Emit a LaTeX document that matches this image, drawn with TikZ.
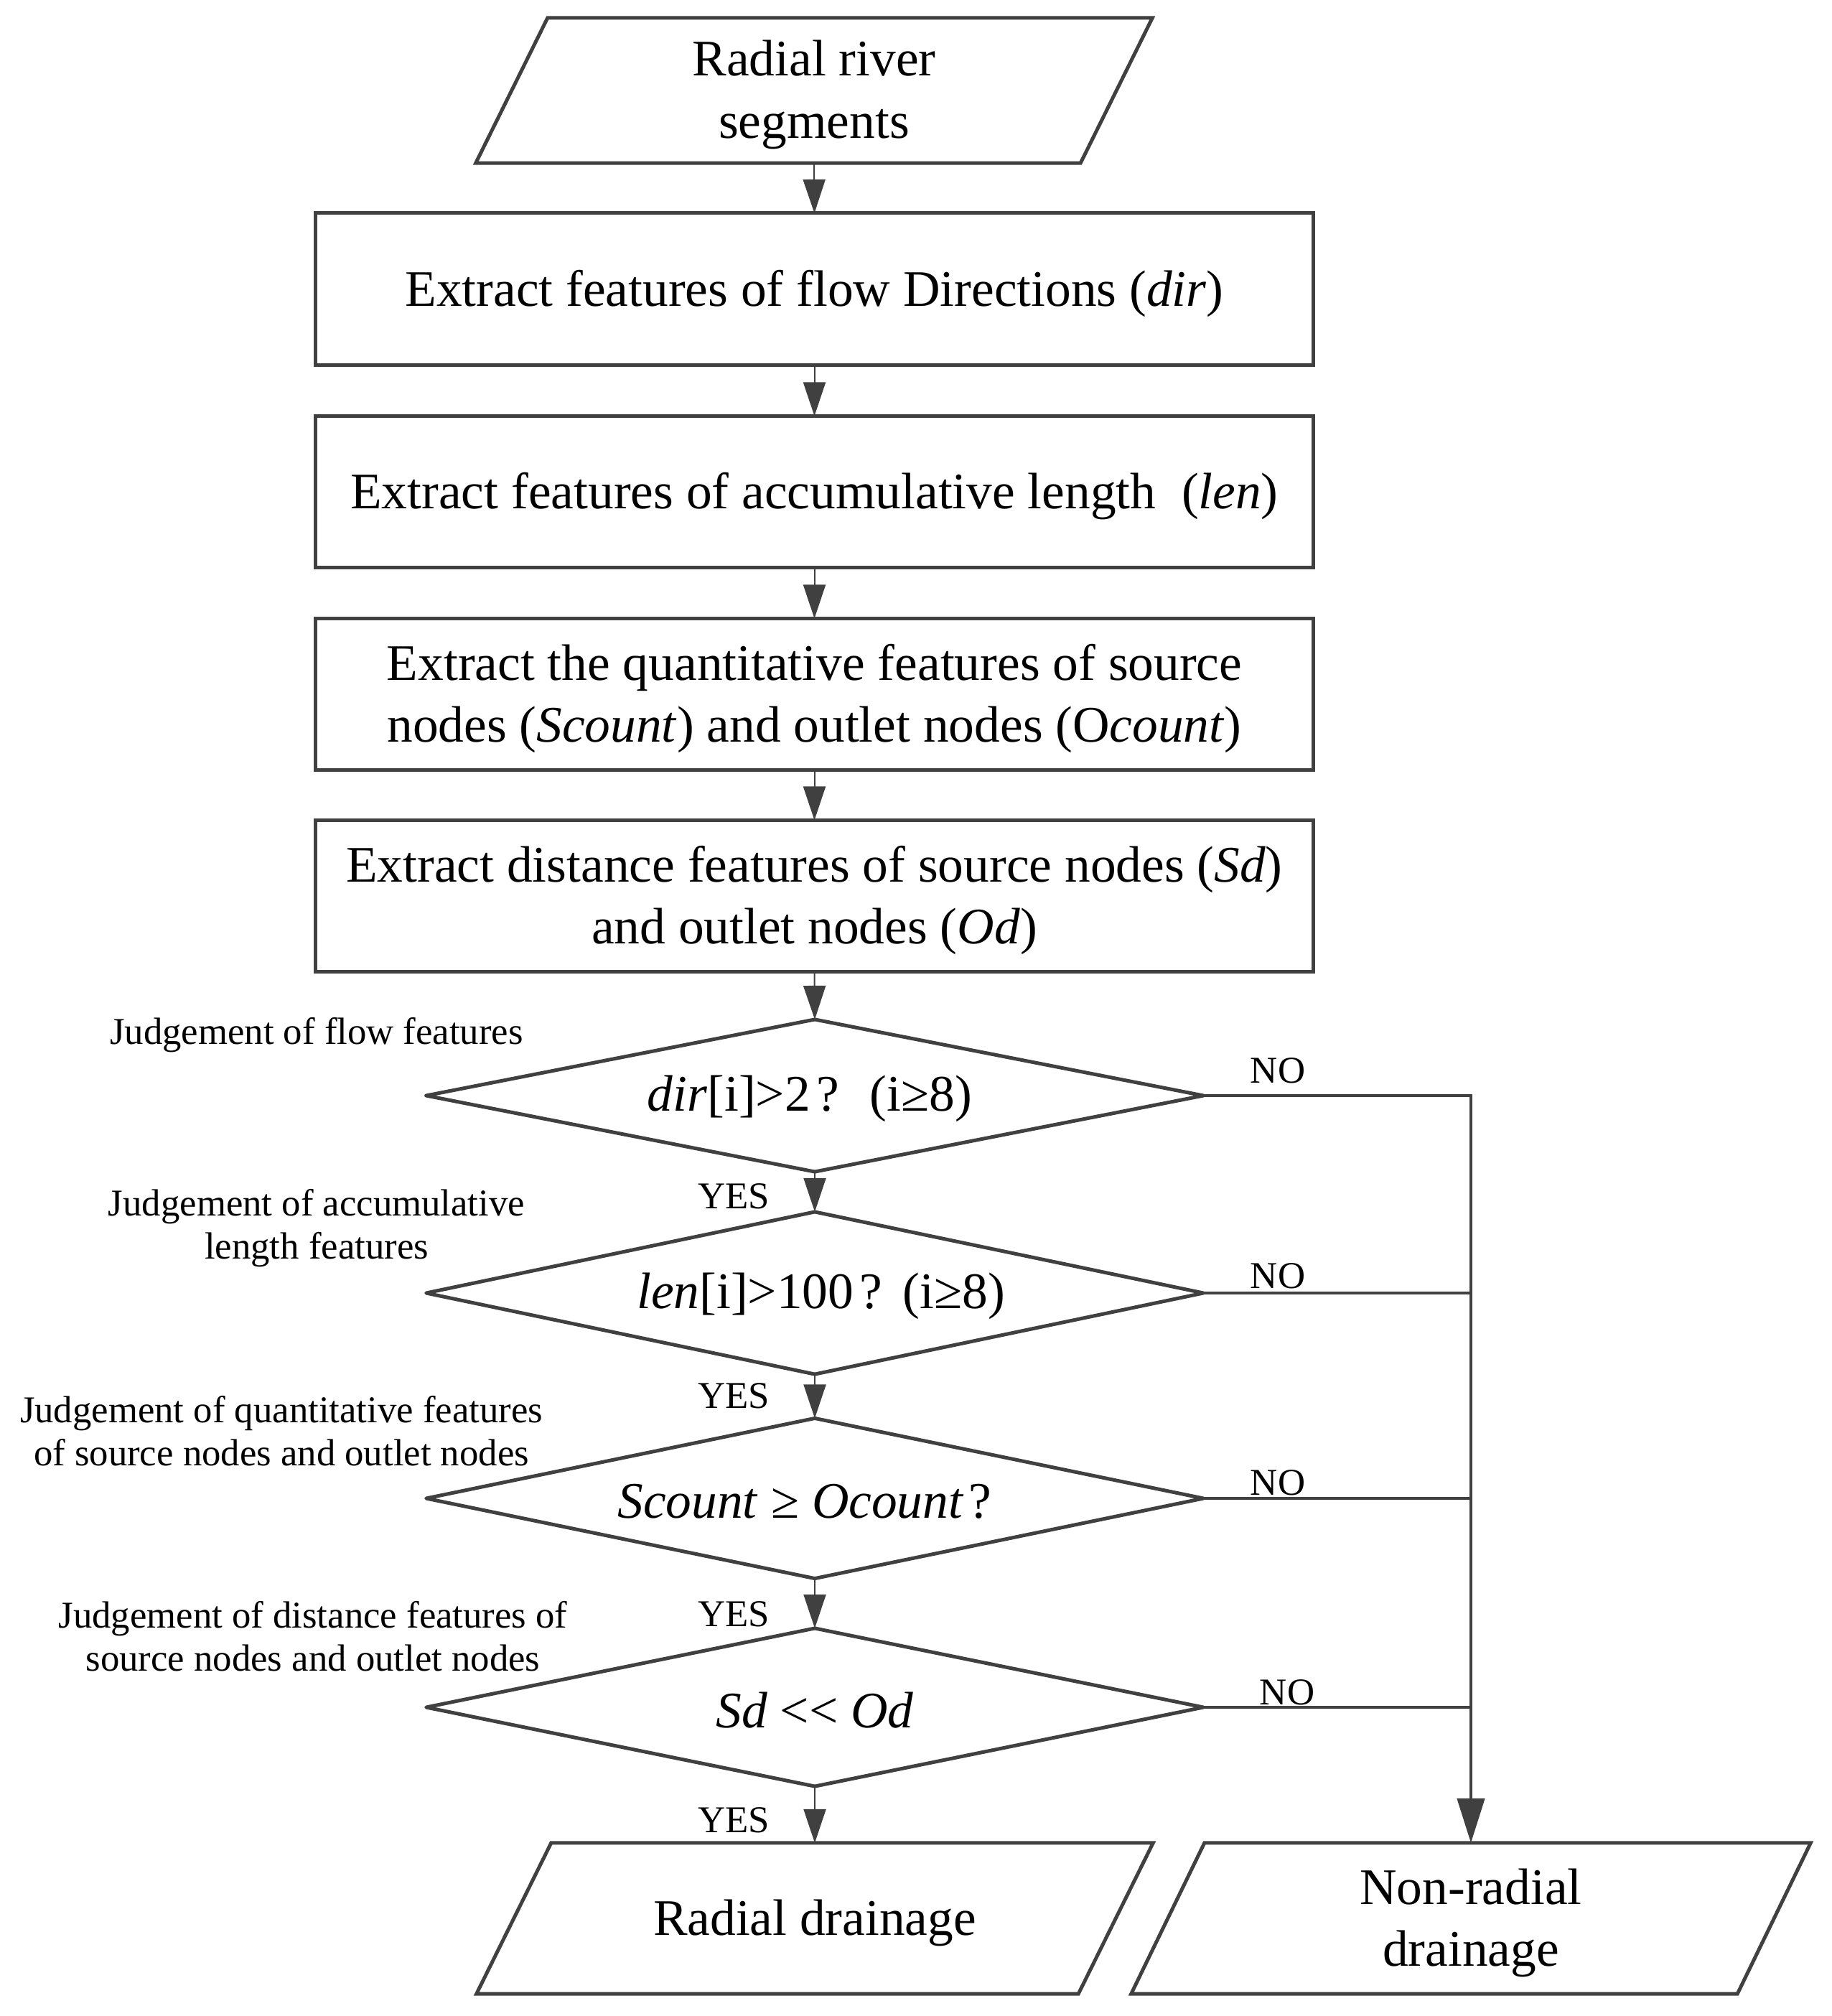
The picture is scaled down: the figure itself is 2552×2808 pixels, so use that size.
\documentclass[tikz,border=0pt]{standalone}
\usepackage{fontspec}
\setmainfont{Liberation Serif}
\usetikzlibrary{arrows.meta,calc}
\definecolor{ln}{HTML}{404040}
\newcommand{\bigtxt}{\fontsize{20.3pt}{24.5pt}\selectfont}
\newcommand{\smalltxt}{\fontsize{15pt}{17.1pt}\selectfont}
\newcommand{\qm}{\kern0.12em?\kern0.6em}
\begin{document}
\begin{tikzpicture}[x=0.01cm,y=-0.01cm,
  every node/.style={inner sep=0pt, outer sep=0pt, align=center, text=black},
  border/.style={draw=ln, line width=1.42pt, line join=miter},
  dborder/.style={draw=ln, line width=1.42pt, line join=round},
  procbox/.style={border, rectangle, minimum width=13.89cm, minimum height=2.11cm},
  iobox/.style={rectangle, minimum height=2.1cm},
  decide/.style={rectangle, minimum width=10.82cm},
  bigt/.style={font=\bigtxt},
  conn/.style={draw=ln, line width=0.57pt, -{Triangle[length=0.47cm,width=0.31cm]}},
  noline/.style={draw=ln, line width=1.3pt},
  lbl/.style={font=\smalltxt},
]
\useasboundingbox (0,0) rectangle (2552,2808);

% input
\node[iobox, minimum width=8.42cm, minimum height=2.02cm] (src) at (1134,126) {};
\draw[border] ($(src.north west)+(50,0)$) -- ($(src.north east)+(50,0)$) -- ($(src.south east)+(-50,0)$) -- ($(src.south west)+(-50,0)$) -- cycle;
\node[bigt] (srct) at ($(src.center)+(0,6)$) {Radial river\\segments};

% process boxes
\node[procbox] (b1) at (1134.5,402.5) {};
\node[procbox] (b2) at (1134.5,685) {};
\node[procbox] (b3) at (1134.5,967) {};
\node[procbox] (b4) at (1134.5,1248) {};
\node[bigt] (b1t) at ($(b1.center)+(0,6)$) {Extract features of flow Directions (\textit{dir})};
\node[bigt] (b2t) at ($(b2.center)+(0,6)$) {Extract features of accumulative length\ \ (\textit{len})};
\node[bigt] (b3t) at ($(b3.center)+(0,6)$) {Extract the quantitative features of source\\nodes (\textit{Scount}) and outlet nodes (O\textit{count})};
\node[bigt] (b4t) at ($(b4.center)+(0,6)$) {Extract distance features of source nodes (\textit{Sd})\\and outlet nodes (\textit{Od})};

% decisions
\node[decide, minimum height=2.12cm] (d1) at (1135,1526) {};
\node[decide, minimum height=2.26cm] (d2) at (1135,1801) {};
\node[decide, minimum height=2.23cm] (d3) at (1135,2087) {};
\node[decide, minimum height=2.20cm] (d4) at (1135,2378) {};
\foreach \d in {d1,d2,d3,d4}{
  \draw[dborder] (\d.north) -- (\d.east) -- (\d.south) -- (\d.west) -- cycle;
}
\node[bigt] (d1t) at ($(d1.center)+(0,4)$) {\textit{dir}[i]>2\qm(i≥8)\kern4pt};
\node[bigt] (d2t) at ($(d2.center)+(0,4)$) {\kern5pt\textit{len}[i]>100\kern0.12em?\kern0.4em(i≥8)};
\node[bigt] (d3t) at ($(d3.center)+(0,4)$) {\textit{Scount} ≥ \textit{Ocount}\kern0.1em?\kern8pt};
\node[bigt] (d4t) at ($(d4.center)+(0,4)$) {\textit{Sd} <\kern0pt< \textit{Od}};

% outputs
\node[iobox, minimum width=8.38cm] (rad) at (1135,2672) {};
\draw[border] ($(rad.north west)+(52,0)$) -- ($(rad.north east)+(52,0)$) -- ($(rad.south east)+(-52,0)$) -- ($(rad.south west)+(-52,0)$) -- cycle;
\node[bigt] (radt) at ($(rad.center)+(0,6)$) {Radial drainage};
\node[iobox, minimum width=8.44cm] (nr) at (2049,2672) {};
\draw[border] ($(nr.north west)+(51,0)$) -- ($(nr.north east)+(51,0)$) -- ($(nr.south east)+(-51,0)$) -- ($(nr.south west)+(-51,0)$) -- cycle;
\node[bigt] (nrt) at ($(nr.center)+(0,6)$) {Non-radial\\drainage};

% main flow
\draw[conn] (src.south) -- (b1.north);
\draw[conn] (b1.south) -- (b2.north);
\draw[conn] (b2.south) -- (b3.north);
\draw[conn] (b3.south) -- (b4.north);
\draw[conn] (b4.south) -- (d1.north);
\draw[conn] (d1.south) -- (d2.north);
\draw[conn] (d2.south) -- (d3.north);
\draw[conn] (d3.south) -- (d4.north);
\draw[conn] (d4.south) -- (rad.north);

% NO branches
\draw[noline, -{Triangle[length=0.62cm,width=0.38cm]}] (d1.east) -- (d1.east -| nr.north) -- (nr.north);
\draw[noline] (d2.east) -- (d2.east -| nr.north);
\draw[noline] (d3.east) -- (d3.east -| nr.north);
\draw[noline] (d4.east) -- (d4.east -| nr.north);

% YES / NO labels
\node[lbl] (y1) at (1022,1666) {YES};
\node[lbl] (y2) at (1022,1944) {YES};
\node[lbl] (y3) at (1022,2248) {YES};
\node[lbl] (y4) at (1022,2535) {YES};
\node[lbl] (n1) at (1780,1491) {NO};
\node[lbl] (n2) at (1780,1777) {NO};
\node[lbl] (n3) at (1780,2065) {NO};
\node[lbl] (n4) at (1793,2357) {NO};

% judgement captions
\node[lbl] (j1) at (441,1442) {Judgement of flow features};
\node[lbl] (j2) at (441,1711) {Judgement of accumulative\\length features};
\node[lbl] (j3) at (392,1993) {Judgement of quantitative features\\of source nodes and outlet nodes};
\node[lbl] (j4) at (436,2279) {Judgement of distance features of\\source nodes and outlet nodes};
\end{tikzpicture}
\end{document}
